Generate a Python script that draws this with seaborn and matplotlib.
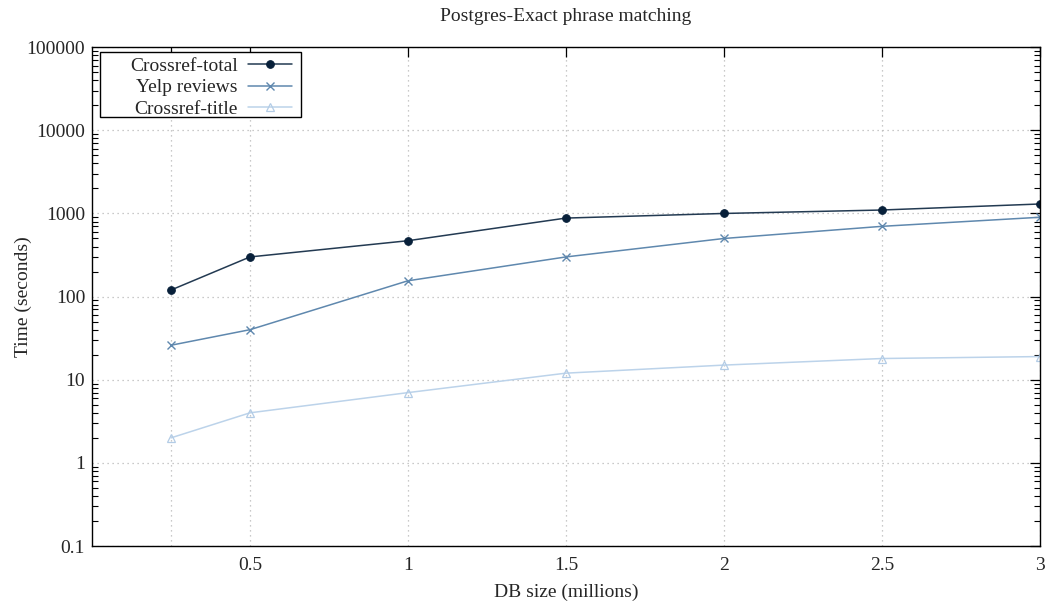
import matplotlib
matplotlib.use("Agg")
import matplotlib.pyplot as plt
import matplotlib.ticker as mticker
from matplotlib.patches import Rectangle
import seaborn as sns
import numpy as np

# ---- data ----
db_size = [0.25, 0.5, 1, 1.5, 2, 2.5, 3]
crossref_total = [120, 300, 470, 880, 1000, 1100, 1300]
yelp_reviews = [26, 40, 155, 300, 500, 700, 900]
crossref_title = [2, 4, 7, 12, 15, 18, 19]
x_tick_vals = [0.25, 0.5, 1, 1.5, 2, 2.5, 3]
x_tick_labels = ["", "0.5", "1", "1.5", "2", "2.5", "3"]
y_tick_vals = [0.1, 1, 10, 100, 1000, 10000, 100000]
y_tick_labels = ["0.1", "1", "10", "100", "1000", "10000", "100000"]

sns.set_theme(style="white")
plt.rcParams["font.family"] = ["Liberation Serif", "DejaVu Serif"]

W, H = 1046, 605
fig = plt.figure(figsize=(W / 100, H / 100), dpi=100)
ax = fig.add_axes([0.088, 0.0975, 0.906, 0.8245])

sns.lineplot(x=db_size, y=crossref_total, ax=ax, label="Crossref-total",
             color="#233a52", linewidth=1.1, marker="o", markersize=5.5,
             markerfacecolor="#08203a", markeredgecolor="#08203a")
sns.lineplot(x=db_size, y=yelp_reviews, ax=ax, label="Yelp reviews",
             color="#5f88ae", linewidth=1.1, marker="x", markersize=5.5,
             markeredgewidth=1.0, markeredgecolor="#5f88ae")
sns.lineplot(x=db_size, y=crossref_title, ax=ax, label="Crossref-title",
             color="#bcd3ea", linewidth=1.1, marker="^", markersize=5.5,
             markerfacecolor="none", markeredgecolor="#b3cce6", markeredgewidth=0.9)

ax.set_yscale("log")
ax.set_xlim(0, 3)
ax.set_ylim(0.1, 100000)
ax.set_xticks(x_tick_vals)
ax.set_xticklabels(x_tick_labels)
ax.yaxis.set_major_locator(mticker.FixedLocator(y_tick_vals))
ax.yaxis.set_major_formatter(mticker.FixedFormatter(y_tick_labels))
ax.yaxis.set_minor_locator(mticker.LogLocator(base=10, subs=np.arange(2, 10)))
ax.yaxis.set_minor_formatter(mticker.NullFormatter())

ax.tick_params(axis="both", which="major", direction="in", length=7, width=0.9,
               top=True, right=True, labelsize=14, color="black")
ax.tick_params(axis="x", which="major", pad=8)
ax.tick_params(axis="y", which="major", pad=5)
ax.tick_params(axis="y", which="minor", direction="in", length=4, width=0.8,
               left=True, right=True, color="black")
ax.tick_params(axis="x", which="minor", bottom=False, top=False)

for s in ax.spines.values():
    s.set_color("black")
    s.set_linewidth(1.0)

ax.grid(True, which="major", axis="both", color="#b8b8b8", linestyle=(0, (1, 3)), linewidth=0.9)
ax.set_axisbelow(True)

ax.set_title("Postgres-Exact phrase matching", fontsize=14, pad=18.5)
ax.set_xlabel("DB size (millions)", fontsize=14, labelpad=7)
ax.set_ylabel("Time (seconds)", fontsize=14)
ax.yaxis.set_label_coords(-0.063, 0.5)

# legend frame (gnuplot style: extra room left of the right-aligned labels)
frame = Rectangle((100 / W, 1 - 117 / H), 201 / W, 65 / H, transform=fig.transFigure,
                  facecolor="white", edgecolor="black", linewidth=1.0, zorder=4)
ax.add_patch(frame)

leg = ax.legend(loc="upper right", bbox_to_anchor=(301 / W, 1 - 48.5 / H),
                bbox_transform=fig.transFigure, borderaxespad=0,
                markerfirst=False, fontsize=14, frameon=False,
                handlelength=2.3, handletextpad=0.5, labelspacing=0.2,
                borderpad=0.45)
leg.set_zorder(5)

fig.savefig("out.png", dpi=100)
